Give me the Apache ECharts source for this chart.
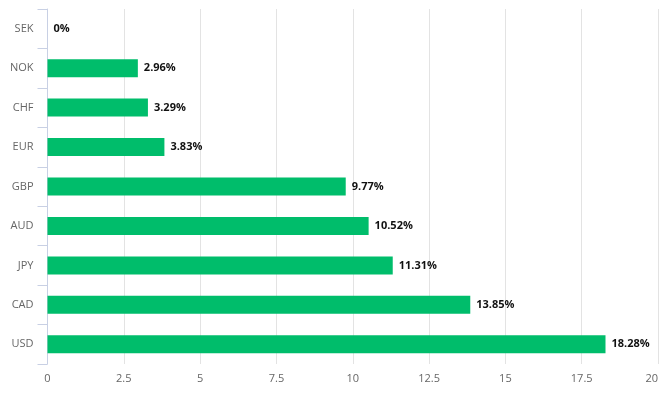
<!DOCTYPE html>
<html><head><meta charset="utf-8">
<script src="https://cdn.jsdelivr.net/npm/echarts@6/dist/echarts.min.js"></script>
<style>html,body{margin:0;padding:0;background:#fff}#c{width:666px;height:405px}</style>
</head><body><div id="c"></div>
<script>
const categories = ['SEK','NOK','CHF','EUR','GBP','AUD','JPY','CAD','USD'];
const values = [0, 2.96, 3.29, 3.83, 9.77, 10.52, 11.31, 13.85, 18.28];
const chart = echarts.init(document.getElementById('c'));
chart.setOption({
  animation: false,
  textStyle: { fontFamily: 'Open Sans' },
  grid: { left: 47.5, right: 8, top: 9, bottom: 41 },
  xAxis: {
    type: 'value', min: 0, max: 20, interval: 2.5,
    axisLine: { show: false }, axisTick: { show: false },
    splitLine: { lineStyle: { color: '#e3e3e3' } },
    axisLabel: { color: '#666', fontSize: 11, margin: 9, alignMaxLabel: 'right' }
  },
  yAxis: {
    type: 'category', inverse: true, data: categories,
    axisLine: { show: true, lineStyle: { color: '#c8d0e4' } },
    axisTick: { show: true, length: 10, lineStyle: { color: '#c8d0e4' } },
    axisLabel: { color: '#666', fontSize: 11, margin: 14 },
    splitLine: { show: false }
  },
  series: [{
    type: 'bar', data: values, barWidth: 18,
    itemStyle: { color: '#00bd6b' },
    label: { show: true, position: 'right', distance: 6, formatter: p => p.value + '%',
      color: '#111', fontWeight: 'bold', fontSize: 11 }
  }]
});
</script></body></html>
